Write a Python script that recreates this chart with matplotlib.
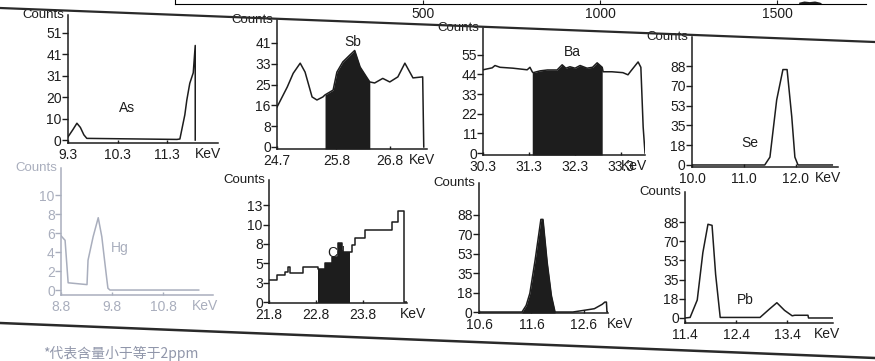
import numpy as np
import matplotlib
matplotlib.use("Agg")
import matplotlib.pyplot as plt
from matplotlib.lines import Line2D

plt.rcParams['font.family'] = ['Liberation Sans Narrow', 'Liberation Sans', 'DejaVu Sans']

# ---------------- data ----------------
as_kev = [9.30, 9.40, 9.48, 9.55, 9.62, 9.68, 11.50, 11.56, 11.66, 11.70, 11.76, 11.83, 11.87, 11.87]
as_cnt = [1.5, 5, 8, 6, 2.5, 0.8, 0.3, 0.5, 12, 19, 27, 32, 45, 0]
as_ticks = [0, 10.2, 20.4, 30.6, 40.8, 51]
as_labels = ['0', '10', '20', '31', '41', '51']
as_xticks = [9.3, 10.3, 11.3]

sb_kev = [24.70, 24.89, 25.00, 25.13, 25.22, 25.35, 25.44, 25.55, 25.59, 25.74, 25.81, 25.92,
          26.05, 26.14, 26.24, 26.37, 26.42, 26.51, 26.66, 26.79, 26.94, 27.07, 27.22, 27.40, 27.42]
sb_cnt = [15.7, 23.6, 29, 33, 29.5, 19.7, 18.5, 19.7, 20.5, 22.4, 29.5, 33.5,
          36.2, 38, 31.5, 27.2, 25.6, 25.2, 27, 25.6, 27.6, 33, 27.2, 27.6, 0]
sb_fill = (25.59, 26.42)
sb_ticks = [0, 8.2, 16.4, 24.6, 32.8, 41]
sb_labels = ['0', '8', '16', '25', '33', '41']
sb_xticks = [24.7, 25.8, 26.8]

ba_kev = [30.30, 30.50, 30.56, 30.67, 30.95, 31.26, 31.32, 31.37, 31.39, 31.54, 31.70, 31.91,
          32.02, 32.10, 32.19, 32.30, 32.41, 32.56, 32.68, 32.78, 32.89, 32.91, 33.10, 33.34,
          33.45, 33.50, 33.67, 33.73, 33.78, 33.82]
ba_cnt = [46.6, 47.7, 49, 48, 47.5, 46.6, 48, 45.5, 45, 46, 46.5, 46.5,
          49.4, 47.5, 48.3, 47.5, 49, 47.5, 48, 50.5, 48, 45.5, 45.5, 45,
          43.8, 45.5, 51, 48, 14.6, 0]
ba_fill = (31.37, 32.89)
ba_ticks = [0, 11, 22, 33, 44, 55]
ba_labels = ['0', '11', '22', '33', '44', '55']
ba_xticks = [30.3, 31.3, 32.3, 33.3]

se_kev = [10.0, 11.40, 11.50, 11.63, 11.75, 11.83, 11.92, 11.98, 12.04, 12.70]
se_cnt = [0, 0, 7, 58, 85, 85, 43, 7, 0, 0]
se_ticks = [0, 17.6, 35.2, 52.8, 70.4, 88]
se_labels = ['0', '18', '35', '53', '70', '88']
se_xticks = [10.0, 11.0, 12.0]

hg_kev = [8.80, 8.88, 8.94, 9.31, 9.33, 9.43, 9.53, 9.60, 9.66, 9.70, 9.72, 9.76, 11.50]
hg_cnt = [6.0, 5.5, 0.8, 0.6, 3.3, 5.9, 8.0, 5.9, 3.0, 1.1, 0.2, 0, 0]
hg_ticks = [0, 2.1, 4.2, 6.3, 8.4, 10.5]
hg_labels = ['0', '2', '4', '6', '8', '10']
hg_xticks = [8.8, 9.8, 10.8]

cd_kev = [21.80, 21.97, 22.14, 22.20, 22.24, 22.52, 22.84, 23.00, 23.14, 23.27, 23.35,
          23.52, 23.57, 23.63, 23.84, 24.42, 24.54, 24.67, 24.74]
cd_cnt = [2.9, 3.6, 4.0, 4.7, 3.9, 4.7, 4.5, 5.2, 6.0, 7.9, 6.7,
          6.7, 7.6, 8.6, 9.7, 10.7, 12.3, 0, 0]
cd_fill = (22.84, 23.52)
cd_ticks = [0, 2.6, 5.2, 7.8, 10.4, 13]
cd_labels = ['0', '3', '5', '8', '10', '13']
cd_xticks = [21.8, 22.8, 23.8]

un_kev = [10.6, 11.42, 11.50, 11.57, 11.67, 11.78, 11.82, 11.90, 11.98, 12.05, 12.39,
          12.60, 12.80, 12.95, 13.00, 13.03, 13.04, 13.06]
un_cnt = [0, 0, 6, 17, 47, 84, 84, 45, 15, 0, 0, 1.5, 3, 7, 9, 9, 0, 0]
un_fill = (11.42, 12.05)
un_ticks = [0, 17.6, 35.2, 52.8, 70.4, 88]
un_labels = ['0', '18', '35', '53', '70', '88']
un_xticks = [10.6, 11.6, 12.6]

pb_kev = [11.40, 11.50, 11.64, 11.75, 11.85, 11.93, 12.00, 12.09, 12.87, 13.05, 13.20,
          13.35, 13.50, 13.55, 13.81, 13.82, 14.30]
pb_cnt = [0, 0.5, 16.5, 60, 86, 85, 40, 0.5, 0.5, 8, 14, 7, 2, 2.5, 2.5, 0, 0]
pb_ticks = [0, 17.6, 35.2, 52.8, 70.4, 88]
pb_labels = ['0', '18', '35', '53', '70', '88']
pb_xticks = [11.4, 12.4, 13.4]

strip_ticks = [500, 1000, 1500]
strip_ch = [1560, 1575, 1590, 1605, 1620, 1627]
strip_cnt = [3, 5, 4, 5, 3, 0]

W, H = 875, 361
ink = '#1d1d1d'
faded = '#a9aebd'

fig = plt.figure(figsize=(W / 100, H / 100), dpi=100)


def box(l, t, r, b):
    return [l / W, 1 - b / H, (r - l) / W, (b - t) / H]


def panel(pos, kev, cnt, xlim, ylim, yt, ylab, xt, keV_px, name=None, name_px=None,
          fill=None, color=ink, steps=False, name_under=False):
    ax = fig.add_axes(box(*pos))
    ax.set_facecolor('none')
    ds = 'steps-post' if steps else 'default'
    ax.plot(kev, cnt, color=color, lw=1.1, drawstyle=ds, zorder=3)
    if fill is not None:
        k = np.array(kev)
        c = np.array(cnt)
        m = (k >= fill[0]) & (k <= fill[1])
        ax.fill_between(k, c, ylim[0], where=m, color=color, step='post' if steps else None,
                        lw=0, zorder=2)
    ax.set_xlim(*xlim)
    ax.set_ylim(*ylim)
    for s in ['top', 'right']:
        ax.spines[s].set_visible(False)
    for s in ['left', 'bottom']:
        ax.spines[s].set_color(color)
        ax.spines[s].set_linewidth(1.1)
    ax.set_yticks(yt)
    ax.set_yticklabels(ylab)
    ax.set_xticks(xt)
    ax.set_xticklabels([f'{v:.1f}' for v in xt])
    ax.tick_params(axis='y', direction='out', length=4, width=1, pad=0.5,
                   labelsize=10, colors=color)
    ax.tick_params(axis='x', direction='in', length=2, width=1, pad=3.5,
                   labelsize=10, colors=color)
    ax.annotate('Counts', xy=(0, 1), xycoords='axes fraction', xytext=(-3, 4),
                textcoords='offset points', ha='right', va='top', fontsize=9.5,
                family=['Liberation Sans', 'DejaVu Sans'], color=color)
    fig.text(keV_px[0] / W, 1 - keV_px[1] / H, 'KeV', ha='center', va='center',
             fontsize=10, color=color, family=['Liberation Sans', 'DejaVu Sans'])
    if name:
        fig.text(name_px[0] / W, 1 - name_px[1] / H, name, ha='center', va='center',
                 fontsize=10, color=color, family=['Liberation Sans', 'DejaVu Sans'],
                 zorder=0 if name_under else 5)
    return ax


# row 1
panel((68, 15, 218, 143), as_kev, as_cnt, (9.3, 12.33), (-1.4, 59.5), as_ticks, as_labels,
      as_xticks, (208, 154), 'As', (127, 108))
panel((277, 20, 427, 149), sb_kev, sb_cnt, (24.7, 27.48), (-0.8, 50), sb_ticks, sb_labels,
      sb_xticks, (422, 160), 'Sb', (353, 42), fill=sb_fill)
panel((483, 28, 645, 155), ba_kev, ba_cnt, (30.3, 33.82), (-1.1, 70), ba_ticks, ba_labels,
      ba_xticks, (634, 166), 'Ba', (572, 52), fill=ba_fill)
panel((692, 37, 838, 167), se_kev, se_cnt, (10.0, 12.81), (-1.8, 114), se_ticks, se_labels,
      se_xticks, (828, 178), 'Se', (750, 143))

# row 2
panel((61, 168, 213, 295), hg_kev, hg_cnt, (8.8, 11.78), (-0.55, 13.5), hg_ticks, hg_labels,
      hg_xticks, (205, 306), 'Hg', (120, 248), color=faded)
panel((269, 180, 407, 303), cd_kev, cd_cnt, (21.8, 24.74), (-0.13, 16.4), cd_ticks,
      cd_labels, cd_xticks, (413, 314), 'Cd', (336, 253), fill=cd_fill, steps=True,
      name_under=True)
panel((479, 183, 608, 313), un_kev, un_cnt, (10.6, 13.06), (-0.9, 117), un_ticks, un_labels,
      un_xticks, (620, 324), fill=un_fill)
panel((685, 192, 833, 323), pb_kev, pb_cnt, (11.4, 14.3), (-4.6, 115.6), pb_ticks, pb_labels,
      pb_xticks, (827, 334), 'Pb', (745, 300))

# cut-off strip of the chart above
sx = fig.add_axes(box(175, -20, 866, 4))
sx.set_facecolor('none')
sx.fill_between(strip_ch, strip_cnt, 0, color=ink, lw=0)
sx.set_xlim(-200, 1750)
sx.set_ylim(0, 40)
sx.spines['top'].set_visible(False)
sx.spines['right'].set_visible(False)
sx.set_yticks([])
sx.set_xticks(strip_ticks)
sx.tick_params(axis='x', direction='in', length=3, pad=2, labelsize=10, colors=ink)

# scan frame lines
fig.add_artist(Line2D([0, 1], [1 - 8 / H, 1 - 42 / H], color='#2a2a2a', lw=1.6))
fig.add_artist(Line2D([0, 1], [1 - 323 / H, 1 - 358 / H], color='#2a2a2a', lw=1.8))

fig.text(43 / W, 1 - 353 / H, '*代表含量小于等于2ppm', ha='left', va='center', fontsize=10,
         color='#9096aa', family=['Noto Sans CJK SC', 'DejaVu Sans'])

fig.savefig('out.png', dpi=100)
